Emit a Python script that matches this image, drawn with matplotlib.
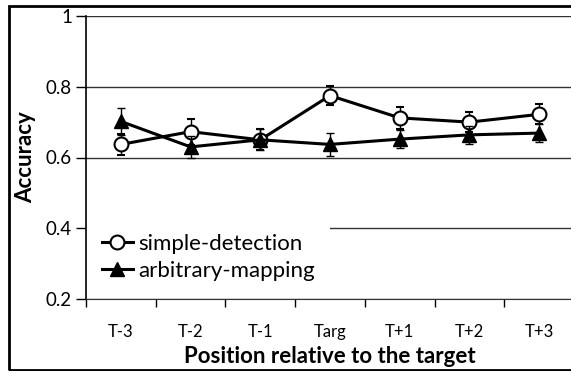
import matplotlib.pyplot as plt
import matplotlib.patches as patches
from matplotlib.lines import Line2D
import numpy as np

plt.rcParams['font.family'] = ['Lato', 'DejaVu Sans']

positions = ['T-3', 'T-2', 'T-1', 'Targ', 'T+1', 'T+2', 'T+3']
simple = [0.637, 0.673, 0.650, 0.775, 0.712, 0.700, 0.722]
simple_err = [0.030, 0.037, 0.030, 0.028, 0.031, 0.028, 0.028]
arbitrary = [0.702, 0.630, 0.650, 0.637, 0.652, 0.664, 0.669]
arbitrary_err = [0.037, 0.030, 0.030, 0.033, 0.026, 0.025, 0.025]

fig = plt.figure(figsize=(5.71, 3.71), dpi=100)
ax = fig.add_axes([86 / 571, 72 / 371, 488 / 571, 283 / 371])

x = np.arange(len(positions))
ax.errorbar(x, simple, yerr=simple_err, color='black', lw=2.2, marker='o',
            ms=10, mfc='white', mec='black', mew=1.5, capsize=3, elinewidth=1,
            ecolor='black', zorder=3)
ax.errorbar(x, arbitrary, yerr=arbitrary_err, color='black', lw=2.2, marker='^',
            ms=10, mfc='black', mec='black', capsize=3, elinewidth=1,
            ecolor='black', zorder=4)

ax.set_xlim(-0.5, 6.5)
ax.set_ylim(0.2, 1.0)
ax.set_yticks([0.2, 0.4, 0.6, 0.8, 1.0])
ax.set_yticklabels(['0.2', '0.4', '0.6', '0.8', '1'])
ax.set_xticks(np.arange(-0.5, 6.5, 1), minor=False)
ax.set_xticklabels([])
ax.set_xticks(x, minor=True)
ax.set_xticklabels(positions, minor=True)
ax.tick_params(axis='x', which='major', length=6, width=1, direction='out')
ax.tick_params(axis='x', which='minor', length=0, labelsize=12, pad=18)
ax.tick_params(axis='y', length=7, width=1, labelsize=13.5, pad=3)
ax.yaxis.grid(True, color='#333333', lw=1)
ax.set_axisbelow(True)
for s in ['top', 'right']:
    ax.spines[s].set_visible(False)
ax.spines['left'].set_linewidth(1.2)
ax.spines['bottom'].set_color('#333333')

ax.set_ylabel('Accuracy', fontsize=16, fontweight='bold', labelpad=7)
ax.set_xlabel('Position relative to the target', fontsize=16,
              fontweight='bold', labelpad=4)

handles = [
    Line2D([], [], color='black', lw=2.2, marker='o', ms=10, mfc='white',
           mec='black', mew=1.5),
    Line2D([], [], color='black', lw=2.2, marker='^', ms=10, mfc='black',
           mec='black'),
]
leg = ax.legend(handles, ['simple-detection', 'arbitrary-mapping'],
                loc='center left', bbox_to_anchor=(0.0, 0.147), fontsize=16,
                frameon=True, fancybox=False, framealpha=1, edgecolor='none',
                handlelength=1.4, handletextpad=0.25, labelspacing=0.3,
                borderpad=0.7, borderaxespad=0)
leg.set_zorder(2.2)

fig.patches.append(patches.Rectangle((9 / 571, 1 / 371), 1.0, 364 / 371,
                                     transform=fig.transFigure, fill=False,
                                     edgecolor='black', lw=2))

fig.savefig('out.png', dpi=100)
